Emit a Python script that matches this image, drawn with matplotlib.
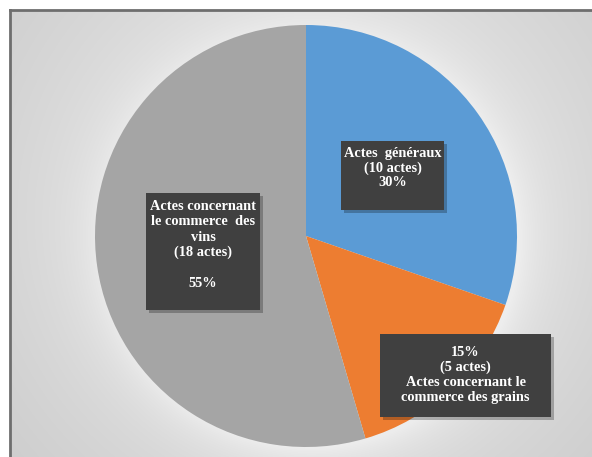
import numpy as np
import matplotlib
matplotlib.use("Agg")
import matplotlib.pyplot as plt
from matplotlib.patches import Rectangle

# Data
categories = ["Actes généraux", "Actes concernant le commerce des grains",
              "Actes concernant le commerce des vins"]
counts = [10, 5, 18]
percents = [30, 15, 55]
colors = ["#5b9bd5", "#ed7d31", "#a5a5a5"]
label_texts = [
    "Actes  généraux\n(10 actes)\n30%",
    "15%\n(5 actes)\nActes concernant le\ncommerce des grains",
    "Actes concernant\nle commerce  des\nvins\n(18 actes)\n\n55%",
]

W, H = 592, 457
fig = plt.figure(figsize=(W / 100, H / 100), dpi=100)
fig.patch.set_facecolor("white")

# Background gradient panel
bg = fig.add_axes([0, 0, 1, 1])
bg.set_xlim(0, W)
bg.set_ylim(H, 0)
bg.axis("off")
yy, xx = np.mgrid[0:H, 0:W]
cx, cy = 306, 200
d = np.sqrt((xx - cx) ** 2 + ((yy - cy) * 1.0) ** 2)
r_pie = 211
d2 = np.sqrt((xx - 306) ** 2 + (yy - 236) ** 2)
glow = np.exp(-np.clip(d2 - r_pie, 0, None) / 25.0)
val = 0.94 - 0.000330 * d
val = np.clip(val, 0.79, 0.97)
val = val + (0.985 - val) * 0.55 * glow
img = np.dstack([val, val, val])
bg.imshow(img, extent=[11, W, H, 11], origin="upper", aspect="auto",
          interpolation="bilinear", zorder=0)
bg.plot([10, 10], [10, H], color="#6e6e6e", lw=2, zorder=1)
bg.plot([10, W], [10, 10], color="#6e6e6e", lw=2, zorder=1)

# Pie
ax = fig.add_axes([95 / W, (H - 236 - 211) / H, 422 / W, 422 / H])
ax.pie(counts, colors=colors, startangle=90, counterclock=False,
       wedgeprops=dict(linewidth=0))
ax.set_xlim(-1, 1)
ax.set_ylim(-1, 1)
ax.set_aspect("equal")
ax.axis("off")

# Overlay for label boxes
ov = fig.add_axes([0, 0, 1, 1])
ov.set_xlim(0, W)
ov.set_ylim(H, 0)
ov.axis("off")
ov.patch.set_alpha(0)

boxes = [
    (341, 141, 103, 69, 168, 1.1),
    (380, 334, 171, 83, 375, 1.16),
    (146, 193, 114, 117, 245, 1.24),
]
for (x0, y0, w, h, ty, ls), txt in zip(boxes, label_texts):
    ov.add_patch(Rectangle((x0 + 3, y0 + 3), w, h, facecolor="#000000",
                           alpha=0.25, edgecolor="none", zorder=2))
    ov.add_patch(Rectangle((x0, y0), w, h, facecolor="#404040",
                           edgecolor="none", zorder=3))
    ov.text(x0 + w / 2, ty, txt, ha="center", va="center",
            color="white", fontsize=10.4, fontweight="bold",
            family="Liberation Serif", linespacing=ls, zorder=4)

fig.savefig("out.png", dpi=100)
